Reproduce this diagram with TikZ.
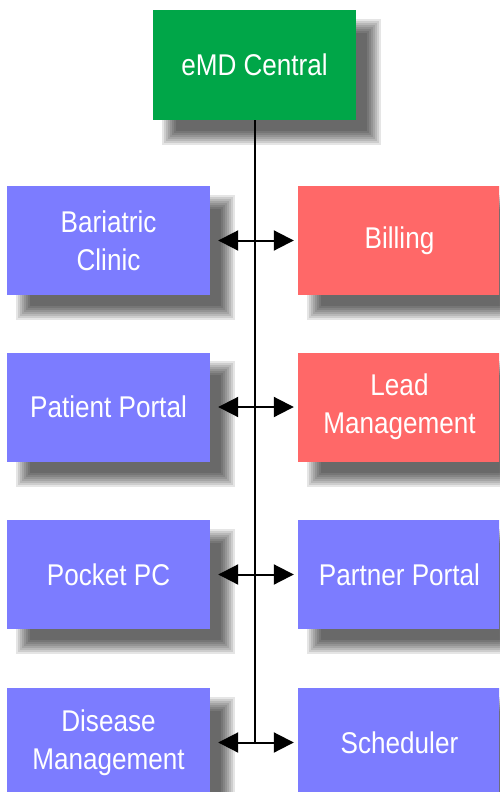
\documentclass[tikz,border=0pt]{standalone}
\usepackage{fontspec}
\setmainfont{Liberation Sans}[FakeStretch=0.87]
\usetikzlibrary{arrows.meta,backgrounds}
\definecolor{cgreen}{RGB}{0,166,72}
\definecolor{cblue}{RGB}{124,124,255}
\definecolor{cred}{RGB}{255,104,104}
\tikzset{
  box/.style={minimum width=203pt,minimum height=109pt,inner sep=0pt,align=center,
    text=white,font=\fontsize{30}{38}\selectfont},
  bluebox/.style={box,fill=cblue},
  redbox/.style={box,fill=cred},
  greenbox/.style={box,fill=cgreen,minimum height=110pt},
  conn/.style={line width=2pt,black},
  biarrow/.style={conn,{Triangle[length=20pt,width=20pt]}-{Triangle[length=20pt,width=20pt]}},
}
\newcommand{\softshadow}[1]{%
  \foreach \k in {0,...,7}{%
    \fill[black,opacity=0.1]
      ([shift={(17-8+2*\k,17-8+2*\k)}]#1.north west) rectangle
      ([shift={(17+8-2*\k,17+8-2*\k)}]#1.south east);
  }}
\begin{document}
\begin{tikzpicture}[x=1pt,y=-1pt]
\useasboundingbox (0,0) rectangle (499,792);
\clip (0,0) rectangle (499,792);
\node[greenbox] (central) at (254.5,65) {eMD Central};
\node[bluebox] (bariatric) at (108.5,240.5) {Bariatric\\Clinic};
\node[redbox] (billing) at (399.5,240.5) {Billing};
\node[bluebox] (patient) at (108.5,407) {Patient Portal};
\node[redbox] (lead) at (399.5,407) {Lead\\Management};
\node[bluebox] (pocket) at (108.5,574.5) {Pocket PC};
\node[bluebox] (partner) at (399.5,574.5) {Partner Portal};
\node[bluebox] (disease) at (108.5,742.5) {Disease\\Management};
\node[bluebox] (scheduler) at (399.5,742.5) {Scheduler};
\begin{scope}[on background layer]
  \fill[white] (0,0) rectangle (499,792);
  \softshadow{central}
  \softshadow{bariatric}
  \softshadow{billing}
  \softshadow{patient}
  \softshadow{lead}
  \softshadow{pocket}
  \softshadow{partner}
  \softshadow{disease}
  \softshadow{scheduler}
\end{scope}
\coordinate (bottomend) at (central.south |- disease.east);
\draw[conn] (central.south) -- (bottomend);
\draw[biarrow,shorten <=8pt,shorten >=4pt] (bariatric.east) -- (billing.west);
\draw[biarrow,shorten <=8pt,shorten >=4pt] (patient.east) -- (lead.west);
\draw[biarrow,shorten <=8pt,shorten >=4pt] (pocket.east) -- (partner.west);
\draw[biarrow,shorten <=8pt,shorten >=4pt] (disease.east) -- (scheduler.west);
\end{tikzpicture}
\end{document}
